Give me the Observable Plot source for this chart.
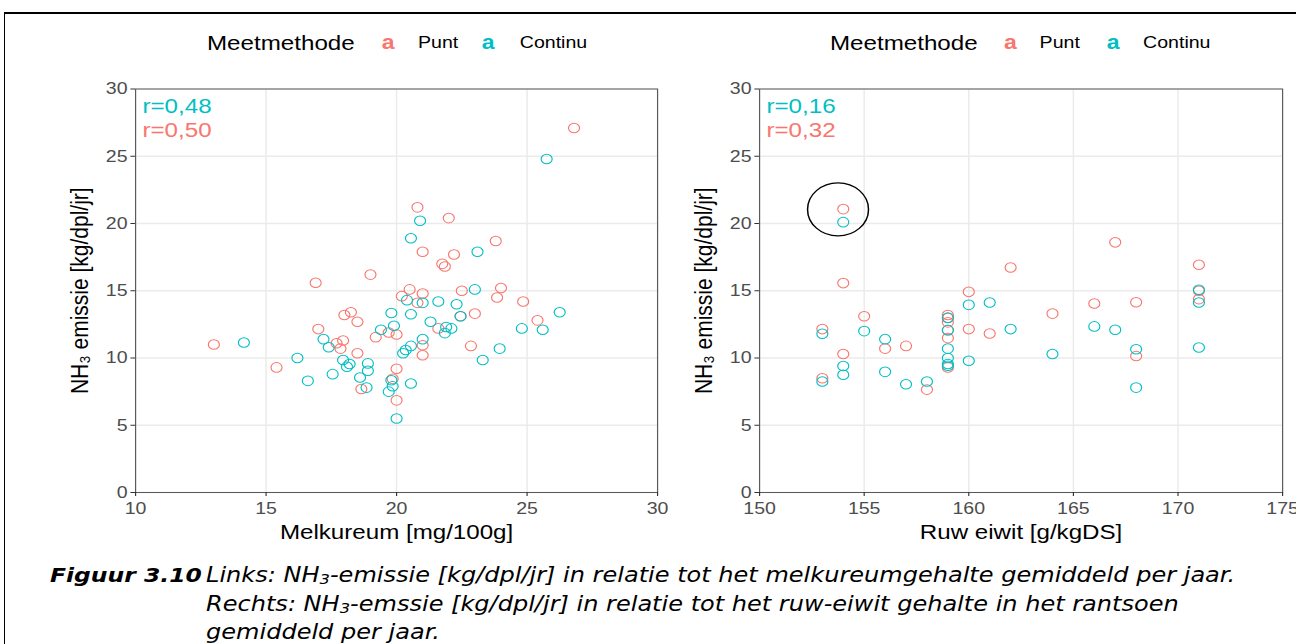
<!DOCTYPE html>
<html><head><meta charset="utf-8">
<script src="https://cdn.jsdelivr.net/npm/d3@7"></script>
<script src="https://cdn.jsdelivr.net/npm/@observablehq/plot@0.6"></script>
<style>
html,body{margin:0;padding:0;background:#fff;overflow:hidden;width:1296px;height:644px;position:relative}
#frame{position:absolute;left:4px;top:12px;width:1400px;height:700px;border-top:2px solid #000;border-left:1.5px solid #000}
#chart{position:absolute;left:0;top:0;width:1127px;height:560px;transform:scaleX(1.15);transform-origin:0 0;font-family:"Liberation Sans",Arial,sans-serif}
.leg{position:absolute;top:42px;transform:translateY(-50%);white-space:nowrap;color:#000;line-height:1}
.panel{position:absolute;top:70px}
.panel svg{overflow:visible}
#caption{position:absolute;left:0;top:0;width:1106px;height:644px;transform:scaleX(1.172);transform-origin:0 0;font-family:"DejaVu Sans",Verdana,sans-serif;font-style:italic;font-size:20.5px;color:#000}
.cl{position:absolute;white-space:nowrap;line-height:1}
.cl sub{font-size:0.68em;vertical-align:-0.15em}
</style></head>
<body>
<div id="frame"></div>
<div id="chart"></div>
<div id="caption"></div>
<script>
// ---- data ----
const methods = ["Punt", "Continu"];
const methodColors = ["#F8766D", "#00BFC4"];
const legendTitle = "Meetmethode";
const yLabel = "NH₃ emissie [kg/dpl/jr]";
const yTicks = [0, 5, 10, 15, 20, 25, 30];

// Left: Melkureum
const melkureumLabel = "Melkureum [mg/100g]";
const melkureumTicks = [10, 15, 20, 25, 30];
const melkureumR = [{text: "r=0,48", m: "Continu"}, {text: "r=0,50", m: "Punt"}];
const melkureumPunt = [[13.0,11.0],[15.4,9.3],[16.9,15.6],[17.0,12.15],[17.7,11.1],[17.95,11.3],[17.85,10.7],[18.0,13.2],[18.25,13.4],[18.5,12.7],[18.5,10.35],[18.65,7.7],[19.0,16.2],[19.2,11.55],[19.7,11.9],[20.0,11.75],[20.0,9.2],[19.85,8.45],[20.0,6.85],[20.2,14.6],[20.5,15.1],[20.8,14.1],[21.0,14.8],[20.8,21.2],[21.0,17.9],[22.0,20.4],[22.2,17.7],[21.75,17.0],[21.85,16.8],[23.8,18.7],[22.5,15.0],[24.0,15.2],[23.85,14.5],[24.85,14.2],[25.4,12.8],[23.0,13.3],[22.45,13.1],[21.6,12.2],[21.0,10.95],[21.0,10.2],[22.85,10.9],[26.8,27.1]];
const melkureumContinu = [[14.15,11.15],[16.2,10.0],[16.6,8.3],[17.2,11.4],[17.4,10.8],[17.55,8.8],[17.95,9.85],[18.1,9.35],[18.2,9.55],[18.6,8.55],[18.9,9.6],[18.9,9.05],[18.85,7.8],[19.4,12.1],[19.8,13.35],[19.9,12.4],[19.8,8.35],[19.85,7.9],[19.7,7.5],[20.0,5.5],[20.4,14.3],[21.0,14.1],[21.6,14.2],[22.3,14.0],[23.0,15.1],[20.9,20.2],[20.55,18.9],[23.1,17.9],[25.75,24.8],[26.25,13.4],[25.6,12.1],[24.8,12.2],[20.55,13.25],[22.45,13.1],[21.3,12.7],[21.9,12.3],[22.1,12.2],[21.85,11.85],[21.0,11.4],[20.55,10.9],[20.35,10.6],[20.25,10.35],[23.95,10.7],[23.3,9.85],[20.55,8.1]];

// Right: Ruw eiwit
const eiwitLabel = "Ruw eiwit [g/kgDS]";
const eiwitTicks = [150, 155, 160, 165, 170, 175];
const eiwitR = [{text: "r=0,16", m: "Continu"}, {text: "r=0,32", m: "Punt"}];
const eiwitPunt = [[154,21.07],[154,15.57],[155,13.1],[153,12.15],[154,10.3],[153,8.5],[156,10.7],[157,10.9],[158,7.65],[159,13.2],[159,12.97],[159,12.65],[159,12.07],[159,11.48],[159,9.3],[160,14.92],[160,12.15],[161,11.82],[162,16.73],[164,13.3],[166,14.05],[167,18.6],[168,14.15],[168,10.15],[171,16.93],[171,15.0],[171,14.38]];
const eiwitContinu = [[154,20.1],[155,12.0],[153,11.8],[154,9.4],[154,8.75],[153,8.25],[156,11.4],[156,8.97],[157,8.05],[158,8.25],[159,13.0],[159,12.07],[159,10.7],[159,10.0],[159,9.55],[159,9.42],[160,13.95],[160,9.8],[161,14.13],[162,12.15],[164,10.3],[166,12.35],[167,12.1],[168,10.65],[168,7.8],[171,15.07],[171,14.13],[171,10.78]];
const eiwitHighlight = [{x: 153.75, y: 21.05}];

// caption
const captionBold = "Figuur 3.10";
const captionLines = [
  "Links: NH<sub>3</sub>-emissie [kg/dpl/jr] in relatie tot het melkureumgehalte gemiddeld per jaar.",
  "Rechts: NH<sub>3</sub>-emssie [kg/dpl/jr] in relatie tot het ruw-eiwit gehalte in het rantsoen",
  "gemiddeld per jaar."
];

// ---- drawing ----
const chart = document.getElementById("chart");

function legend(x0, offsets) {
  const items = [{t: legendTitle, size: 21, color: "#000", dx: 0, w: "normal"}];
  methods.forEach((m, i) => {
    items.push({t: "a", size: 20, color: methodColors[i], dx: offsets[1 + 2 * i], w: "bold"});
    items.push({t: m, size: 17, color: "#000", dx: offsets[2 + 2 * i], w: "normal"});
  });
  items.forEach(it => {
    const s = document.createElement("span");
    s.className = "leg";
    s.textContent = it.t;
    s.style.left = (x0 + it.dx) + "px";
    s.style.fontSize = it.size + "px";
    s.style.fontWeight = it.w;
    s.style.color = it.color;
    chart.appendChild(s);
  });
}

function panel({punt, continu, domain, ticks, xLabel, rLabels, highlight, left, width, marginLeft, marginRight}) {
  const data = [
    ...punt.map(([x, y]) => ({x, y, m: "Punt"})),
    ...continu.map(([x, y]) => ({x, y, m: "Continu"}))
  ];
  const marks = [
    Plot.gridX({ticks, stroke: "#ebebeb", strokeOpacity: 1, strokeWidth: 1.3}),
    Plot.gridY({ticks: yTicks, stroke: "#ebebeb", strokeOpacity: 1, strokeWidth: 1.3}),
    Plot.dot(data, {x: "x", y: "y", stroke: "m", r: 4.8, strokeWidth: 1, fill: "none"}),
    Plot.frame({stroke: "#5a5a5a", strokeWidth: 1}),
    Plot.axisX({ticks, tickSize: 4, tickPadding: 5, fontSize: 17, fill: "#4d4d4d", stroke: "#333", label: null}),
    Plot.axisY({ticks: yTicks, tickSize: 4, tickPadding: 3, fontSize: 17, fill: "#4d4d4d", stroke: "#333", label: null}),
    Plot.text([yLabel], {frameAnchor: "left", dx: -48, rotate: -90, textAnchor: "middle", lineAnchor: "middle", fontSize: 21, fill: "#000"}),
    Plot.text([xLabel], {frameAnchor: "bottom", dy: 40, textAnchor: "middle", lineAnchor: "middle", fontSize: 21, fill: "#000"}),
    ...rLabels.map((d, i) => Plot.text([d], {text: "text", frameAnchor: "top-left", dx: 6, dy: 17.5 + 24 * i, textAnchor: "start", lineAnchor: "middle", fontSize: 21, fill: methodColors[methods.indexOf(d.m)]}))
  ];
  if (highlight) marks.push(Plot.dot(highlight, {x: "x", y: "y", r: 26.5, stroke: "#000", strokeWidth: 1.3, fill: "none"}));
  const p = Plot.plot({
    width, height: 480, marginLeft, marginRight, marginTop: 18.5, marginBottom: 58,
    x: {domain}, y: {domain: [0, 30]},
    color: {domain: methods, range: methodColors},
    style: {fontFamily: "'Liberation Sans', Arial, sans-serif", fontSize: "17px", background: "transparent", overflow: "visible"},
    marks
  });
  const wrap = document.createElement("div");
  wrap.className = "panel";
  wrap.style.left = left + "px";
  wrap.appendChild(p);
  chart.appendChild(wrap);
}

panel({punt: melkureumPunt, continu: melkureumContinu, domain: [10, 30], ticks: melkureumTicks, xLabel: melkureumLabel, rLabels: melkureumR, left: 0, width: 575, marginLeft: 117.4, marginRight: 3.7});
panel({punt: eiwitPunt, continu: eiwitContinu, domain: [150, 175], ticks: eiwitTicks, xLabel: eiwitLabel, rLabels: eiwitR, highlight: eiwitHighlight, left: 590, width: 537, marginLeft: 70, marginRight: 12.2});

legend(180, [0, 152, 183.5, 239, 272]);
legend(721.7, [0, 151.3, 182.3, 240.8, 272.3]);

// caption (coordinates before the horizontal stretch)
const cap = document.getElementById("caption");
const b = document.createElement("div");
b.className = "cl";
b.style.left = "42.7px"; b.style.top = "565px";
b.style.fontWeight = "bold";
b.style.fontSize = "20px";
b.textContent = captionBold;
cap.appendChild(b);
captionLines.forEach((t, i) => {
  const d = document.createElement("div");
  d.className = "cl";
  d.style.left = "175.8px";
  d.style.top = (565 + 28.5 * i) + "px";
  d.innerHTML = t;
  cap.appendChild(d);
});
</script>
</body></html>
